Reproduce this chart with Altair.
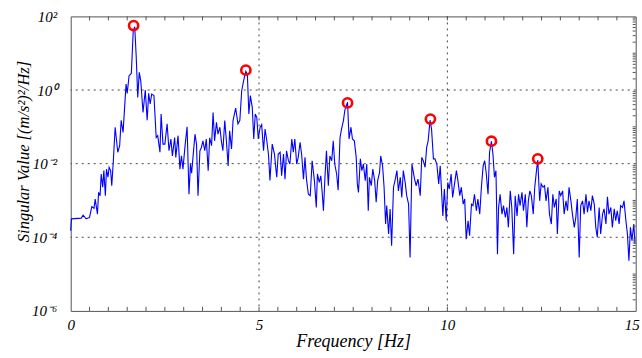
import altair as alt
import pandas as pd

# ---- data (frequency in Hz, singular value as log10 exponent) ----
freq_hz = [
    0.00, 0.02, 0.28, 0.33, 0.41, 0.50, 0.56, 0.62, 0.65, 0.71,
    0.74, 0.78, 0.81, 0.85, 0.88, 0.92, 0.95, 0.99, 1.02, 1.06,
    1.09, 1.13, 1.18, 1.25, 1.30, 1.34, 1.39, 1.47, 1.50, 1.55,
    1.61, 1.66, 1.70, 1.74, 1.78, 1.82, 1.86, 1.92, 1.98, 2.03,
    2.07, 2.11, 2.15, 2.21, 2.27, 2.31, 2.37, 2.40, 2.45,
    2.50, 2.56, 2.61, 2.66, 2.70, 2.76, 2.79, 2.85, 2.90, 2.94,
    2.98, 3.04, 3.09, 3.14, 3.18, 3.21, 3.25, 3.30, 3.34, 3.38,
    3.43, 3.47, 3.51, 3.56, 3.60, 3.65, 3.69, 3.74, 3.78, 3.82,
    3.87, 3.91, 3.96, 4.00, 4.04, 4.09, 4.13, 4.18, 4.22, 4.27,
    4.31, 4.38, 4.44, 4.49, 4.54, 4.59, 4.65, 4.69, 4.73, 4.77,
    4.82,
    4.86, 4.90, 4.94, 4.98, 5.03, 5.07, 5.12, 5.16, 5.20, 5.25,
    5.29, 5.35, 5.41, 5.47, 5.51, 5.56, 5.60, 5.65, 5.69, 5.73,
    5.78, 5.82, 5.87, 5.91, 5.95, 6.00, 6.04, 6.09, 6.13, 6.18,
    6.22, 6.26, 6.31, 6.36, 6.41, 6.47, 6.52, 6.55, 6.60, 6.64,
    6.68, 6.71, 6.75, 6.79, 6.84, 6.88, 6.93, 6.97, 7.01, 7.06,
    7.10, 7.15, 7.19, 7.24, 7.28, 7.35,
    7.39, 7.44, 7.48, 7.53, 7.58, 7.61, 7.64, 7.69, 7.73, 7.77,
    7.82, 7.86, 7.90, 7.93, 7.98, 8.02, 8.07, 8.11, 8.15, 8.20,
    8.23, 8.28, 8.32, 8.36, 8.39, 8.44, 8.48, 8.52, 8.57, 8.61,
    8.66, 8.70, 8.75, 8.79, 8.83, 8.88, 8.92, 8.97, 9.01, 9.06,
    9.12, 9.17, 9.22, 9.28, 9.32, 9.36, 9.41, 9.45, 9.49, 9.54,
    9.58, 9.63, 9.67, 9.72, 9.77, 9.81, 9.88, 9.92, 9.97, 10.01,
    10.05, 10.10, 10.14, 10.19, 10.24, 10.28, 10.33, 10.37, 10.42, 10.46,
    10.50, 10.55, 10.59, 10.64, 10.68, 10.72, 10.77, 10.81, 10.86, 10.90,
    10.95, 10.99, 11.03, 11.08, 11.12, 11.17, 11.21, 11.25, 11.29, 11.33,
    11.36, 11.40, 11.45, 11.49, 11.54, 11.58, 11.62, 11.67, 11.71, 11.76,
    11.80, 11.85, 11.89, 11.93, 11.98, 12.02, 12.07, 12.11, 12.15, 12.19,
    12.23, 12.28, 12.32, 12.37, 12.40, 12.45, 12.49, 12.54, 12.58, 12.62,
    12.67, 12.71, 12.76, 12.80, 12.84, 12.89, 12.92, 12.97, 13.01, 13.06,
    13.10, 13.15, 13.19, 13.23, 13.28, 13.32, 13.37, 13.41, 13.45, 13.50,
    13.54, 13.59, 13.63, 13.68, 13.72, 13.76, 13.81, 13.85, 13.90, 13.94,
    13.98, 14.03, 14.07, 14.12, 14.16, 14.21, 14.25, 14.29, 14.34, 14.38,
    14.43, 14.47, 14.51, 14.56, 14.60, 14.65, 14.69, 14.74, 14.78, 14.82,
    14.86, 14.90, 14.95, 14.98,
]

sv_exp = [
    -3.82, -3.50, -3.48, -3.40, -3.50, -3.46, -3.17, -3.21, -2.96, -3.37,
    -2.78, -2.87, -2.28, -2.64, -2.19, -2.87, -2.15, -2.37, -2.10, -2.19,
    -2.60, -1.96, -1.01, -1.69, -1.51, -0.82, -1.15, 0.16, -0.09, 0.39,
    0.45, 1.61, 1.72, 0.89, -0.20, 0.48, 0.25, -0.61, 0.00, -0.82,
    -0.09, -0.38, -0.11, -0.15, -1.29, -1.24, -1.69, -0.65, -1.47,
    -1.47, -0.92, -1.65, -1.33, -1.79, -1.29, -1.83, -1.24, -2.15, -1.79,
    -2.15, -1.47, -1.00, -2.83, -2.01, -2.26, -1.79, -1.20, -1.47, -2.87,
    -1.65, -1.56, -1.38, -1.65, -1.33, -2.19, -1.30, -1.51, -0.61, -1.38,
    -0.88, -1.20, -1.01, -1.38, -1.65, -0.83, -1.33, -2.06, -1.11, -1.60,
    -0.83, -0.49, -0.92, -0.83, -0.02, 0.25, 0.51, 0.43, -0.65, -0.15,
    -0.47,
    -1.33, -0.65, -0.74, -1.33, -1.01, -0.94, -1.65, -1.06, -1.33, -1.74,
    -2.46, -1.47, -1.74, -2.37, -1.74, -1.69, -2.33, -1.74, -2.42, -1.65,
    -1.92, -2.01, -1.33, -1.69, -1.33, -2.01, -1.83, -1.42, -1.74, -2.42,
    -1.83, -2.42, -2.83, -2.87, -1.92, -2.46, -3.19, -2.28, -2.51, -2.33,
    -2.83, -3.28, -2.37, -1.65, -2.60, -1.79, -1.92, -1.38, -2.01, -2.28,
    -2.72, -1.29, -1.06, -0.83, -0.54, -0.33,
    -1.33, -1.01, -1.33, -1.38, -1.83, -2.55, -2.78, -1.87, -2.19, -2.01,
    -2.46, -2.01, -3.28, -2.37, -2.60, -2.15, -2.46, -3.05, -2.46, -2.24,
    -1.79, -2.06, -2.64, -3.64, -3.14, -3.91, -3.23, -4.23, -2.64, -2.46,
    -2.19, -2.74, -2.37, -2.92, -2.19, -2.51, -2.87, -3.10, -4.55, -2.01,
    -2.37, -2.60, -2.42, -2.87, -1.83, -1.92, -2.10, -1.56, -1.38, -0.82,
    -1.06, -1.87, -1.87, -2.01, -2.55, -2.06, -3.42, -2.69, -3.55, -2.51,
    -2.69, -2.28, -2.92, -2.55, -2.19, -2.46, -2.87, -2.64, -3.10, -2.96,
    -4.05, -3.55, -3.96, -3.10, -3.14, -2.83, -3.28, -2.96, -3.37, -2.69,
    -2.06, -1.92, -2.24, -2.83, -1.69, -1.39, -1.74, -2.37, -2.19, -4.46,
    -3.19, -2.83, -3.37, -3.14, -3.46, -3.19, -3.73, -2.74, -3.19, -4.46,
    -2.87, -3.42, -2.83, -3.14, -2.78, -3.28, -2.83, -3.73, -3.01, -2.74,
    -2.87, -3.37, -2.64, -2.15, -1.90, -3.01, -2.55, -2.64, -2.60, -3.01,
    -2.64, -3.37, -3.64, -2.83, -3.19, -2.96, -3.91, -2.74, -2.87, -2.74,
    -3.37, -3.01, -3.28, -2.64, -3.01, -3.37, -3.73, -3.46, -2.96, -4.55,
    -3.14, -3.01, -3.37, -2.83, -3.32, -3.01, -3.28, -2.87, -3.10, -3.73,
    -4.00, -3.19, -3.91, -3.37, -3.23, -3.64, -2.90, -3.37, -3.19, -3.73,
    -3.23, -3.55, -3.28, -3.64, -3.14, -3.19, -3.01, -3.55, -3.91, -4.64,
    -3.73, -4.09, -3.64, -4.18,
]

peak_hz = [1.67, 4.65, 7.35, 9.55, 11.17, 12.40]
peak_exp = [1.75, 0.54, -0.35, -0.79, -1.39, -1.87]

x_label_values = [0, 5, 10, 15]
x_grid_values = [5, 10]
x_minor_ticks = [0.5, 1.0, 1.5, 2.0, 2.5, 3.0, 3.5, 4.0, 4.5, 5.0,
                 5.5, 6.0, 6.5, 7.0, 7.5, 8.0, 8.5, 9.0, 9.5, 10.0,
                 10.5, 11.0, 11.5, 12.0, 12.5, 13.0, 13.5, 14.0, 14.5]
y_label_values = [1e-6, 1e-4, 1e-2, 1e0, 1e2]
y_tick_labels = ["10⁻⁶", "10⁻⁴", "10⁻²", "10⁰", "10²"]
y_grid_values = [1e0, 1e-2, 1e-4]
y_minor_ticks = [k * 10.0 ** e for e in range(-6, 2) for k in range(2, 10)] + [1e-5, 1e-3, 1e-1, 1e1]

# ---- layout ----
W, H = 565, 294.5
FONT = "Liberation Serif"
TXT = "#000000"
FRAME = "#555555"

spectrum = pd.DataFrame({"f": freq_hz, "sv": [10 ** e for e in sv_exp]})
peaks = pd.DataFrame({"f": peak_hz, "sv": [10 ** e for e in peak_exp]})

xscale = alt.Scale(domain=[0, 15], nice=False, zero=False)
yscale = alt.Scale(type="log", domain=[1e-6, 1e2], nice=False)

# label expression built from the label lists
expr = "'" + y_tick_labels[-1] + "'"
for v, lab in reversed(list(zip(y_label_values[:-1], y_tick_labels[:-1]))):
    expr = f"datum.value < {v * 3:g} ? '{lab}' : " + expr

x_axis = alt.Axis(
    values=x_label_values, format="d", grid=False, ticks=False, domain=False,
    labelFont=FONT, labelFontStyle="italic", labelFontSize=15, labelColor=TXT,
    labelPadding=19, labelBaseline="alphabetic", labelFlush=False, labelOverlap=False,
    labelOffset={"condition": {"test": f"datum.value >= {x_label_values[-1]}", "value": -4}, "value": 0},
    title="Frequency [Hz]", titleFont=FONT, titleFontStyle="italic",
    titleFontWeight="normal", titleFontSize=18, titleColor=TXT,
    titleBaseline="alphabetic", titleY=36, titleX=W / 2,
)
y_axis = alt.Axis(
    values=y_label_values, labelExpr=expr, grid=False, ticks=False, domain=False,
    labelFont=FONT, labelFontStyle="italic", labelFontSize=15, labelColor=TXT,
    labelPadding=14, labelBaseline="middle", labelFlush=False, labelOverlap=False,
    title="Singular Value [(m/s²)²/Hz]", titleFont=FONT, titleFontStyle="italic",
    titleFontWeight="normal", titleFontSize=16.5, titleColor=TXT,
    titleAngle=270, titleAlign="center", titleBaseline="middle",
    titleX=-46.7, titleY=134.6,
)

X = lambda: alt.X("f:Q", scale=xscale, axis=x_axis)
Y = lambda: alt.Y("sv:Q", scale=yscale, axis=y_axis)

line = alt.Chart(spectrum).mark_line(color="#0000ff", strokeWidth=1.1).encode(x=X(), y=Y())

grid_x = alt.Chart(pd.DataFrame({"f": x_grid_values})).mark_rule(
    color="#333333", strokeWidth=0.9, strokeDash=[2, 4]
).encode(x=X())

grid_y = alt.Chart(pd.DataFrame({"sv": y_grid_values})).mark_rule(
    color="#333333", strokeWidth=0.9, strokeDash=[2, 4]
).encode(y=Y())

ticks_df = pd.DataFrame({"f": x_minor_ticks})
bottom_ticks = alt.Chart(ticks_df).mark_rule(color=FRAME, strokeWidth=1).encode(
    x=X(), y=alt.value(H), y2=alt.value(H - 4)
)
top_ticks = alt.Chart(ticks_df).mark_rule(color=FRAME, strokeWidth=1).encode(
    x=X(), y=alt.value(0), y2=alt.value(4)
)
right_ticks = alt.Chart(pd.DataFrame({"sv": y_minor_ticks})).mark_rule(
    color=FRAME, strokeWidth=1
).encode(y=Y(), x=alt.value(W), x2=alt.value(W - 3))

circles = alt.Chart(peaks).mark_point(
    shape="circle", filled=False, color="#ff0000", strokeWidth=2.6, size=85, opacity=1
).encode(x=X(), y=Y())

chart = alt.layer(
    line, grid_x, grid_y, bottom_ticks, top_ticks, right_ticks, circles
).properties(
    width=W,
    height=H,
    autosize=alt.AutoSizeParams(type="none"),
    padding={"left": 70.7, "top": 16.4, "right": 6.3, "bottom": 47.1},
    background="white",
).configure_view(stroke=FRAME, strokeWidth=1)

chart.save("out.html", embed_options={"renderer": "svg", "actions": False})
